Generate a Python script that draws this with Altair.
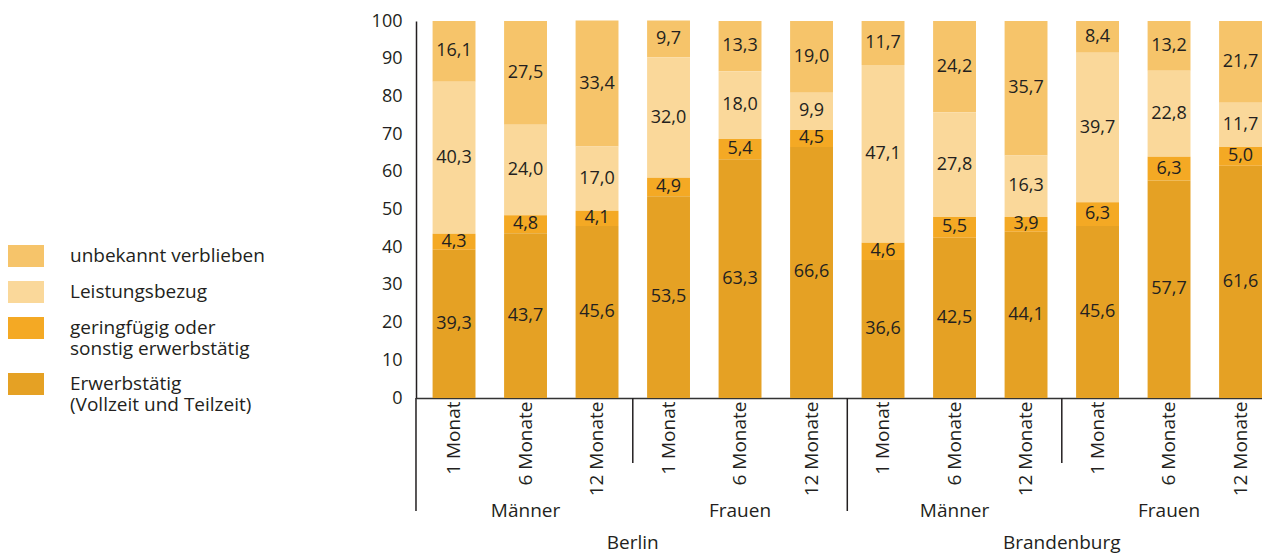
import altair as alt
import pandas as pd

# ---- data ----
regions = ["Berlin"] * 6 + ["Brandenburg"] * 6
sexes = (["Männer"] * 3 + ["Frauen"] * 3) * 2
durations = ["1 Monat", "6 Monate", "12 Monate"] * 4

categories = [
    "unbekannt verblieben",
    "Leistungsbezug",
    "geringfügig oder|sonstig erwerbstätig",
    "Erwerbstätig|(Vollzeit und Teilzeit)",
]
colors = ["#F6C46A", "#FAD89A", "#F4A924", "#E5A124"]

erwerbstaetig = [39.3, 43.7, 45.6, 53.5, 63.3, 66.6, 36.6, 42.5, 44.1, 45.6, 57.7, 61.6]
geringfuegig = [4.3, 4.8, 4.1, 4.9, 5.4, 4.5, 4.6, 5.5, 3.9, 6.3, 6.3, 5.0]
leistungsbezug = [40.3, 24.0, 17.0, 32.0, 18.0, 9.9, 47.1, 27.8, 16.3, 39.7, 22.8, 11.7]
unbekannt = [16.1, 27.5, 33.4, 9.7, 13.3, 19.0, 11.7, 24.2, 35.7, 8.4, 13.2, 21.7]

series = [unbekannt, leistungsbezug, geringfuegig, erwerbstaetig]
stack_rank = [3, 2, 1, 0]
y_ticks = [0, 10, 20, 30, 40, 50, 60, 70, 80, 90, 100]

keys = [f"{r}|{s}|{d}" for r, s, d in zip(regions, sexes, durations)]

rows = []
for cat, vals, rk in zip(categories, series, stack_rank):
    for k, v in zip(keys, vals):
        rows.append({"key": k, "cat": cat, "value": v, "ord": rk})
df = pd.DataFrame(rows)

sex_labels = pd.DataFrame({"key": [keys[1], keys[4], keys[7], keys[10]],
                           "label": [sexes[1], sexes[4], sexes[7], sexes[10]]})
region_labels = pd.DataFrame({"key": [keys[2], keys[8]], "label": [regions[2], regions[8]]})
short_sep = pd.DataFrame({"key": [keys[2], keys[8]]})
long_sep = pd.DataFrame({"key": [keys[5]]})
left_sep = pd.DataFrame({"key": [keys[0]]})

FONT = "Open Sans"
TXT = "#231f20"
GAP = 14.3  # half of the gap between two bars, in px
xscale = alt.Scale(domain=keys, paddingInner=0.4, paddingOuter=0.116, align=1)
yscale = alt.Scale(domain=[0, 100], nice=False)
xaxis = alt.Axis(title=None, labelAngle=-90, labelExpr="split(datum.value, '|')[2]",
                 ticks=False, domainColor="#333333", domainWidth=1.5, labelPadding=3,
                 labelFontSize=19, labelAlign="right", labelBaseline="middle", labelColor=TXT)
yaxis = alt.Axis(values=y_ticks, ticks=False, grid=False,
                 labelOverlap=False, labelFlush=False,
                 domainColor="#231f20", domainWidth=1.5, labelFontSize=18,
                 labelPadding=14, labelColor=TXT, title=None)


def X(**kw):
    return alt.X("key:N", scale=xscale, sort=keys, axis=xaxis, **kw)


base = alt.Chart(df).transform_stack(
    stack="value", groupby=["key"], as_=["v0", "v1"], sort=[alt.SortField("ord")]
).transform_calculate(
    mid="(datum.v0 + datum.v1) / 2",
    txt="replace(format(datum.value, '.1f'), '.', ',')",
)

bars = base.mark_bar().encode(
    x=X(),
    y=alt.Y("v0:Q", scale=yscale, axis=yaxis),
    y2="v1:Q",
    color=alt.Color("cat:N", scale=alt.Scale(domain=categories, range=colors),
                    legend=alt.Legend(
                        title=None, orient="none", legendX=-408, legendY=224,
                        symbolType="M-2.273,-1H2.273V1H-2.273Z", symbolSize=484,
                        symbolStrokeWidth=0, symbolOpacity=1,
                        labelFontSize=19, labelColor=TXT, labelOffset=40,
                        labelLimit=400, rowPadding=14,
                        labelExpr="split(datum.label, '|')",
                    )),
)

labels = base.mark_text(fontSize=18, color=TXT, font=FONT).encode(
    x=X(),
    y=alt.Y("mid:Q", scale=yscale, axis=yaxis),
    text="txt:N",
)

sex_text = alt.Chart(sex_labels).mark_text(fontSize=19, color=TXT, font=FONT).encode(
    x=X(),
    y=alt.value(490),
    text="label:N",
)
region_text = alt.Chart(region_labels).mark_text(fontSize=19, color=TXT, font=FONT, dx=GAP).encode(
    x=X(bandPosition=1),
    y=alt.value(522),
    text="label:N",
)
short_rules = alt.Chart(short_sep).mark_rule(color="#231f20", strokeWidth=1.5, xOffset=GAP).encode(
    x=X(bandPosition=1),
    y=alt.value(377), y2=alt.value(442),
)
long_rules = alt.Chart(long_sep).mark_rule(color="#231f20", strokeWidth=1.5, xOffset=GAP).encode(
    x=X(bandPosition=1),
    y=alt.value(377), y2=alt.value(490),
)
left_rule = alt.Chart(left_sep).mark_rule(color="#231f20", strokeWidth=1.5, xOffset=-16.6).encode(
    x=X(bandPosition=0),
    y=alt.value(377), y2=alt.value(490),
)

chart = alt.layer(
    bars, labels, sex_text, region_text, short_rules, long_rules, left_rule
).properties(
    width=846, height=377,
    padding={"left": 0, "top": 4, "right": 0, "bottom": 0},
).configure(
    font=FONT,
).configure_view(stroke=None)

chart.save("out.html", embed_options={"renderer": "svg", "actions": False})
